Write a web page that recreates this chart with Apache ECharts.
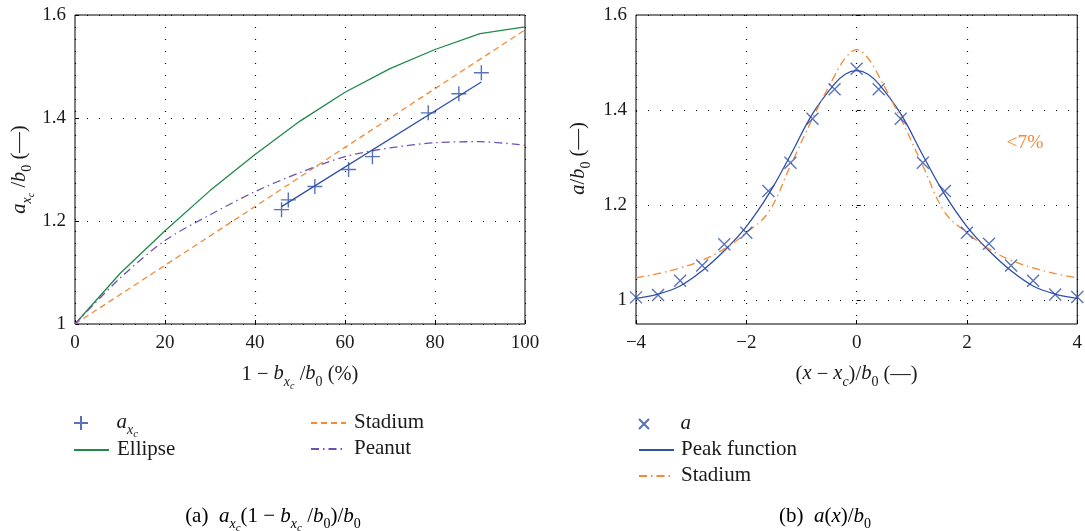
<!DOCTYPE html>
<html>
<head>
<meta charset="utf-8">
<title>a/b0</title>
<script src="https://cdn.jsdelivr.net/npm/echarts@6/dist/echarts.min.js"></script>
<style>
html, body { margin: 0; padding: 0; background: #fff; }
#chart { width: 1085px; height: 531px; }
</style>
</head>
<body>
<div id="chart"></div>
<script>
// (a) a_xc against 1 - b_xc/b0 (%)
var axcX = [45.9, 47.4, 53.3, 60.8, 66.1, 78.5, 85.3, 90.3];
var axcY = [1.222, 1.241, 1.267, 1.300, 1.325, 1.410, 1.447, 1.488];
var fitX = [45.9, 90.3];
var fitY = [1.228, 1.470];
var shapeX = [0, 10, 20, 30, 40, 50, 60, 70, 80, 90, 100];
var ellipseY = [1, 1.098, 1.181, 1.259, 1.329, 1.394, 1.450, 1.496, 1.533, 1.564, 1.577];
var peanutY = [1, 1.089, 1.162, 1.212, 1.257, 1.294, 1.325, 1.342, 1.352, 1.354, 1.347];
var stadiumX = [0, 20, 40, 60, 80, 100];
var stadiumY = [1, 1.114, 1.228, 1.343, 1.457, 1.571];

// (b) a(x)/b0 against (x - xc)/b0
var posX = [-4, -3.6, -3.2, -2.8, -2.4, -2, -1.6, -1.2, -0.8, -0.4, 0,
  0.4, 0.8, 1.2, 1.6, 2, 2.4, 2.8, 3.2, 3.6, 4];
var aY = [1.006, 1.011, 1.041, 1.073, 1.118, 1.142, 1.230, 1.289, 1.382, 1.444, 1.487,
  1.444, 1.382, 1.289, 1.230, 1.142, 1.119, 1.073, 1.041, 1.012, 1.007];
var curveX = [-4, -3.6, -3.2, -2.8, -2.4, -2, -1.6, -1.2, -0.8, -0.4, -0.2, 0,
  0.2, 0.4, 0.8, 1.2, 1.6, 2, 2.4, 2.8, 3.2, 3.6, 4];
var peakY = [1.004, 1.013, 1.030, 1.062, 1.104, 1.155, 1.222, 1.305, 1.392, 1.455, 1.476, 1.483,
  1.476, 1.455, 1.392, 1.305, 1.222, 1.155, 1.104, 1.062, 1.030, 1.013, 1.004];
var stadium2Y = [1.047, 1.056, 1.068, 1.084, 1.108, 1.142, 1.185, 1.283, 1.382, 1.472, 1.510, 1.527,
  1.510, 1.472, 1.382, 1.283, 1.185, 1.142, 1.108, 1.084, 1.068, 1.056, 1.047];

// tick values
var xTicksA = [0, 20, 40, 60, 80, 100];
var yTicksA = [1, 1.2, 1.4, 1.6];
var xTicksB = [-4, -2, 0, 2, 4];
var yTicksB = [1, 1.2, 1.4, 1.6];

var BLUE = "#2f50a8";
var GREEN = "#1f8a4a";
var ORANGE = "#f38a36";
var PURPLE = "#6e52b3";
var INK = "#1a1a1a";
var SERIF = "'Liberation Serif', 'DejaVu Serif', serif";

var PLUS = "path://M0,5L10,5M5,0L5,10";
var CROSS = "path://M0,0L10,10M10,0L0,10";

function pairs(xs, ys) {
  return xs.map(function (x, i) { return [x, ys[i]]; });
}

// rich text styles (italics, subscripts), base size fs
function makeRich(fs) {
  var sub = Math.round(fs * 0.66);
  var sub2 = Math.round(fs * 0.5);
  var lh = fs + 2;
  return {
    n: { fontFamily: SERIF, fontSize: fs, lineHeight: lh, verticalAlign: "top", color: INK },
    i: { fontFamily: SERIF, fontSize: fs, fontStyle: "italic", lineHeight: lh, verticalAlign: "top", color: INK },
    s: { fontFamily: SERIF, fontSize: sub, fontStyle: "italic", lineHeight: sub, verticalAlign: "top", padding: [Math.round(fs * 0.55), 0, 0, 0], color: INK },
    d: { fontFamily: SERIF, fontSize: sub, lineHeight: sub, verticalAlign: "top", padding: [Math.round(fs * 0.55), 0, 0, 0], color: INK },
    ss: { fontFamily: SERIF, fontSize: sub2, fontStyle: "italic", lineHeight: sub2, verticalAlign: "top", padding: [Math.round(fs * 0.83), 0, 0, 0], color: INK }
  };
}
var richName = makeRich(20.5);
var richLegend = makeRich(21);
var richCaption = makeRich(21);

var legendText = {
  axc: "{i|a}{s|x}{ss|c}",
  ellipse: "{n|Ellipse}",
  stadiumA: "{n|Stadium}",
  peanut: "{n|Peanut}",
  a: "{i|a}",
  peak: "{n|Peak function}",
  stadiumB: "{n|Stadium}"
};

// one legend per entry, so each row sits where the reference has it
function legendItem(name, left, cy, pad, markSize) {
  return {
    data: [name],
    left: left,
    top: cy - 11.5,
    itemWidth: 35,
    itemHeight: markSize || 14,
    selectedMode: false,
    itemStyle: markSize ? {} : { opacity: 0 },
    textStyle: { rich: richLegend, padding: [0, 0, 0, pad] },
    formatter: function (n) { return legendText[n]; }
  };
}

var gridLine = { show: true, lineStyle: { color: "#000", type: [1, 11], width: 1.2 } };
var tick = { show: true, inside: true, length: 4, lineStyle: { color: "#000" } };
var label = { color: INK, fontFamily: SERIF, fontSize: 19 };

function minus(v) {
  return String(v).replace("-", "\u2212");
}

var chart = echarts.init(document.getElementById("chart"));

var option = {
  animation: false,
  backgroundColor: "#fff",
  grid: [
    { left: 75, top: 15, width: 450, height: 309, show: true, borderColor: "#000", borderWidth: 1, containLabel: false },
    { left: 636, top: 15, width: 444, height: 309, show: true, borderColor: "#000", borderWidth: 1, containLabel: false }
  ],
  xAxis: [
    {
      type: "value", gridIndex: 0, min: 0, max: 100, interval: 20,
      axisLine: { show: false }, axisTick: tick, splitLine: gridLine,
      axisLabel: Object.assign({ margin: 10, customValues: xTicksA }, label),
      name: "{n|1 \u2212 }{i|b}{s|x}{ss|c}{n| /}{i|b}{d|0}{n| (%)}",
      nameLocation: "middle", nameGap: 40,
      nameTextStyle: { rich: richName }
    },
    {
      type: "value", gridIndex: 1, min: -4, max: 4, interval: 2,
      axisLine: { show: false }, axisTick: tick, splitLine: gridLine,
      axisLabel: Object.assign({ margin: 10, customValues: xTicksB, formatter: minus }, label),
      name: "{n|(}{i|x}{n| \u2212 }{i|x}{s|c}{n|)/}{i|b}{d|0}{n| (\u2014)}",
      nameLocation: "middle", nameGap: 40,
      nameTextStyle: { rich: richName }
    }
  ],
  yAxis: [
    {
      type: "value", gridIndex: 0, min: 1, max: 1.6, interval: 0.2,
      axisLine: { show: false }, axisTick: tick, splitLine: gridLine,
      axisLabel: Object.assign({ margin: 9, customValues: yTicksA }, label),
      name: "{i|a}{s|x}{ss|c}{n| /}{i|b}{d|0}{n| (\u2014)}",
      nameLocation: "middle", nameRotate: 90, nameGap: 43,
      nameTextStyle: { rich: richName }
    },
    {
      type: "value", gridIndex: 1, min: 0.95, max: 1.6, interval: 0.05,
      axisLine: { show: false },
      axisTick: Object.assign({ customValues: yTicksB }, tick),
      splitLine: gridLine,
      axisLabel: Object.assign({ margin: 9, customValues: yTicksB }, label),
      name: "{i|a}{n|/}{i|b}{d|0}{n| (\u2014)}",
      nameLocation: "middle", nameRotate: 90, nameGap: 45,
      nameTextStyle: { rich: richName, padding: [0, 0, 0, 22] }
    }
  ],
  legend: [
    legendItem("axc", 68, 418, 13, 14),
    legendItem("ellipse", 68, 445, 3),
    legendItem("stadiumA", 305, 418, 3),
    legendItem("peanut", 305, 444, 3),
    legendItem("a", 633, 419, 14, 10),
    legendItem("peak", 633, 445, 2),
    legendItem("stadiumB", 633, 471, 2)
  ],
  graphic: [
    {
      type: "text", x: 273, y: 517,
      style: {
        text: "{n|(a)  }{i|a}{s|x}{ss|c}{n|(1 \u2212 }{i|b}{s|x}{ss|c}{n| /}{i|b}{d|0}{n|)/}{i|b}{d|0}",
        rich: richCaption, align: "center", verticalAlign: "middle"
      }
    },
    {
      type: "text", x: 825, y: 517,
      style: {
        text: "{n|(b)  }{i|a}{n|(}{i|x}{n|)/}{i|b}{d|0}",
        rich: richCaption, align: "center", verticalAlign: "middle"
      }
    },
    {
      type: "text", x: 1025, y: 143,
      style: {
        text: "<7%", fill: ORANGE, fontFamily: SERIF, fontSize: 19.5,
        align: "center", verticalAlign: "middle"
      }
    }
  ],
  series: [
    {
      name: "ellipse", type: "line", xAxisIndex: 0, yAxisIndex: 0,
      data: pairs(shapeX, ellipseY), symbol: "none",
      lineStyle: { color: GREEN, width: 1.3 }, itemStyle: { color: GREEN }
    },
    {
      name: "stadiumA", type: "line", xAxisIndex: 0, yAxisIndex: 0,
      data: pairs(stadiumX, stadiumY), symbol: "none",
      lineStyle: { color: ORANGE, width: 1.3, type: [6, 4] }, itemStyle: { color: ORANGE }
    },
    {
      name: "peanut", type: "line", xAxisIndex: 0, yAxisIndex: 0,
      data: pairs(shapeX, peanutY), symbol: "none", smooth: 0.3,
      lineStyle: { color: PURPLE, width: 1.3, type: [8, 4, 1.5, 4] }, itemStyle: { color: PURPLE }
    },
    {
      name: "fit", type: "line", xAxisIndex: 0, yAxisIndex: 0,
      data: pairs(fitX, fitY), symbol: "none",
      lineStyle: { color: BLUE, width: 1.3 }
    },
    {
      name: "axc", type: "scatter", xAxisIndex: 0, yAxisIndex: 0,
      data: pairs(axcX, axcY), symbol: PLUS, symbolSize: 15,
      itemStyle: { color: "rgba(0,0,0,0)", borderColor: BLUE, borderWidth: 1.4 }, z: 5
    },
    {
      name: "peak", type: "line", xAxisIndex: 1, yAxisIndex: 1,
      data: pairs(curveX, peakY), symbol: "none", smooth: 0.4,
      lineStyle: { color: BLUE, width: 1.3 }, itemStyle: { color: BLUE }
    },
    {
      name: "stadiumB", type: "line", xAxisIndex: 1, yAxisIndex: 1,
      data: pairs(curveX, stadium2Y), symbol: "none", smooth: 0.4,
      lineStyle: { color: ORANGE, width: 1.3, type: [8, 4, 1.5, 4] }, itemStyle: { color: ORANGE }
    },
    {
      name: "a", type: "scatter", xAxisIndex: 1, yAxisIndex: 1,
      data: pairs(posX, aY), symbol: CROSS, symbolSize: 12,
      itemStyle: { color: "rgba(0,0,0,0)", borderColor: BLUE, borderWidth: 1.4 }, z: 5
    }
  ]
};

chart.setOption(option);
</script>
</body>
</html>
